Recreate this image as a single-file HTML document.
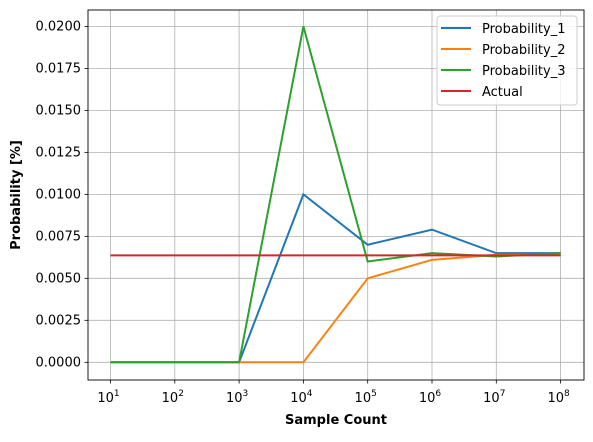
<!DOCTYPE html>
<html><head><meta charset="utf-8"><style>body{margin:0;background:#fff}svg{font-family:"DejaVu Sans","Liberation Sans",sans-serif}</style></head>
<body>
<svg id="c" width="593" height="437" xmlns="http://www.w3.org/2000/svg"></svg>
<script>
const exps=[1,2,3,4,5,6,7,8];
const p1=[0,0,0,0.01,0.007,0.0079,0.0065,0.0065];
const p2=[0,0,0,0,0.005,0.0061,0.0064,0.0064];
const p3=[0,0,0,0.02,0.006,0.0065,0.0063,0.0065];
const actual=[0.00637,0.00637,0.00637,0.00637,0.00637,0.00637,0.00637,0.00637];
const yTicks=[0,0.0025,0.005,0.0075,0.01,0.0125,0.015,0.0175,0.02];
const yLabels=["0.0000","0.0025","0.0050","0.0075","0.0100","0.0125","0.0150","0.0175","0.0200"];
const series=[["Probability_1",p1,"#1f77b4"],["Probability_2",p2,"#ff7f0e"],["Probability_3",p3,"#2ca02c"],["Actual",actual,"#d62728"]];
const L=88,R=584,T=10,B=380;
const X=e=>110.5+(e-1)*64.3;
const Y=v=>362.3-v*(335.9/0.02);
const s=document.getElementById('c');const NS="http://www.w3.org/2000/svg";
function el(t,a,p){const e=document.createElementNS(NS,t);for(const k in a)e.setAttribute(k,a[k]);(p||s).appendChild(e);return e;}
yTicks.forEach((v,i)=>{const g=el('g',{});


el('line',{x1:L,x2:R,y1:Y(v),y2:Y(v),stroke:'#b0b0b0','stroke-width':0.8},g);
el('line',{x1:L-3.5,x2:L,y1:Y(v),y2:Y(v),stroke:'#000','stroke-width':0.8},g);
const t=el('text',{x:L-7,y:Y(v)+4,'text-anchor':'end','font-size':'13'},g);t.textContent=yLabels[i];

});
exps.forEach(e=>{const g=el('g',{});


el('line',{x1:X(e),x2:X(e),y1:T,y2:B,stroke:'#b0b0b0','stroke-width':0.8},g);
el('line',{x1:X(e),x2:X(e),y1:B,y2:B+3.5,stroke:'#000','stroke-width':0.8},g);
const t=el('text',{x:X(e)-2,y:B+22,'text-anchor':'middle','font-size':'13'},g);t.textContent='10';
const sp=el('tspan',{dy:-6,'font-size':'9'},t);sp.textContent=e;

});
series.forEach(([n,d,c])=>{const p=el('polyline',{points:d.map((v,i)=>X(exps[i])+','+Y(v)).join(' '),fill:'none',stroke:c,'stroke-width':2});

});
const f=el('rect',{x:L,y:T,width:R-L,height:B-T,fill:'none',stroke:'#000','stroke-width':0.9});


const xt=el('text',{x:(L+R)/2,y:424,'text-anchor':'middle','font-size':'13','font-weight':'bold'});xt.textContent='Sample Count';


const yt=el('text',{x:0,y:0,'text-anchor':'middle','font-size':'13','font-weight':'bold',transform:`translate(20,${(T+B)/2}) rotate(-90)`});yt.textContent='Probability [%]';


const lg=el('g',{});


el('rect',{x:437,y:16,width:140,height:89,rx:3,fill:'#fff','fill-opacity':0.8,stroke:'#ccc'},lg);
series.forEach(([n,d,c],i)=>{const g=el('g',{},lg);


const y=28+i*21;el('line',{x1:441,x2:471,y1:y,y2:y,stroke:c,'stroke-width':2},g);
const t=el('text',{x:482,y:y+5,'font-size':'13'},g);t.textContent=n;});
</script>
</body></html>
